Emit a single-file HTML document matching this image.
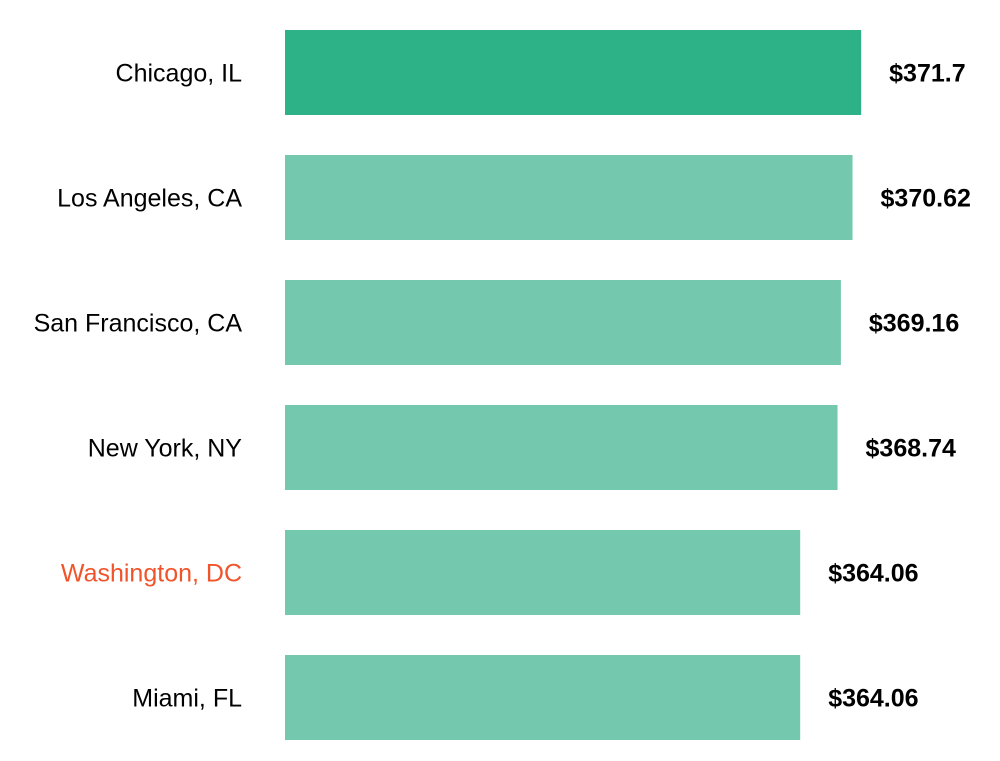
<!DOCTYPE html>
<html><head><meta charset="utf-8"><style>
html,body{margin:0;padding:0;background:#fff;width:1000px;height:761px;overflow:hidden}
svg text{font-family:"Liberation Sans",Arial,sans-serif}
</style></head><body>
<svg id="chart" width="1000" height="761" xmlns="http://www.w3.org/2000/svg"></svg>
<script>
const categories = ["Chicago, IL","Los Angeles, CA","San Francisco, CA","New York, NY","Washington, DC","Miami, FL"];
const values = [371.7,370.62,369.16,368.74,364.06,364.06];
const valueLabels = ["$371.7","$370.62","$369.16","$368.74","$364.06","$364.06"];
const highlightIndex = 0;
const labelHighlight = 4;

const svg = document.getElementById('chart');
const NS = 'http://www.w3.org/2000/svg';
const x0 = 285, kx = 7.98, vMin = 299.5;
function xScale(v){ return x0 + (v - vMin) * kx; }
const top0 = 30, step = 125, bh = 85;
function yScale(i){ return top0 + i * step; }

categories.forEach((c, i) => {
  const y = yScale(i);
  const r = document.createElementNS(NS, 'rect');
  
  
  r.setAttribute('x', x0);
  r.setAttribute('y', y);
  r.setAttribute('width', xScale(values[i]) - x0);
  r.setAttribute('height', bh);
  r.setAttribute('fill', i === highlightIndex ? '#2db287' : '#74c8ad');
  svg.appendChild(r);

  const t = document.createElementNS(NS, 'text');
  
  
  t.setAttribute('x', 242);
  t.setAttribute('y', y + bh / 2 + 9);
  t.setAttribute('text-anchor', 'end');
  t.setAttribute('font-size', '25');
  t.setAttribute('fill', i === labelHighlight ? '#f0542a' : '#000');
  t.textContent = c;
  svg.appendChild(t);

  const v = document.createElementNS(NS, 'text');
  
  
  v.setAttribute('x', xScale(values[i]) + 28);
  v.setAttribute('y', y + bh / 2 + 9);
  v.setAttribute('font-size', '25');
  v.setAttribute('font-weight', 'bold');
  v.setAttribute('fill', '#000');
  v.textContent = valueLabels[i];
  svg.appendChild(v);
});
</script>
</body></html>
